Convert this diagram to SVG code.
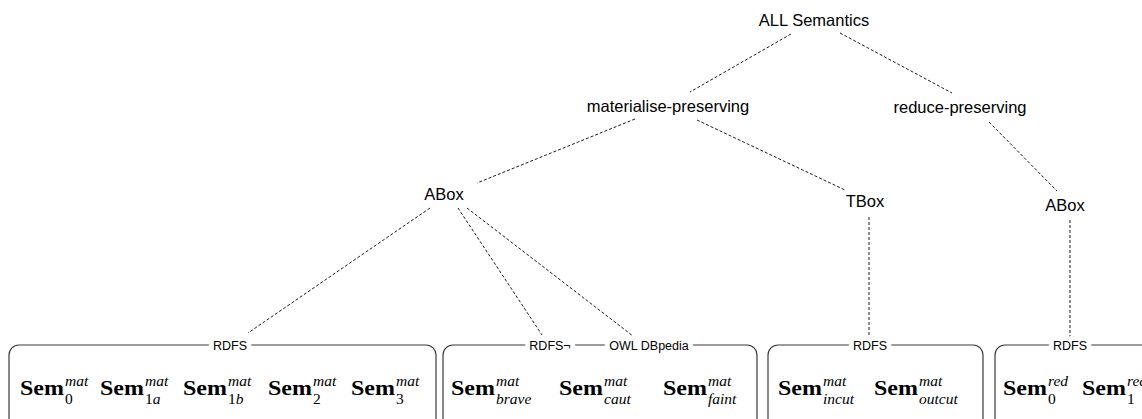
<svg xmlns="http://www.w3.org/2000/svg" width="1142" height="419" viewBox="0 0 1142 419">
  <style>
    .node { font-family: "Liberation Sans", Arial, sans-serif; font-size: 16.5px; fill: #000; text-anchor: middle; }
    .edge { fill: none; stroke: #000; stroke-width: 0.9; stroke-dasharray: 3 2; }
    .box { fill: none; stroke: #3a3a3a; stroke-width: 1.2; }
    .tag { font-family: "Liberation Sans", Arial, sans-serif; font-size: 12.5px; fill: #000; text-anchor: middle;
           stroke: #fff; stroke-width: 10; stroke-linejoin: round; paint-order: stroke; }
    .sem { font-family: "Liberation Serif", "Times New Roman", serif; font-size: 21px; font-weight: bold; fill: #000; }
    .scr { font-family: "Liberation Serif", "Times New Roman", serif; font-size: 15.5px; fill: #000; }
    .it { font-style: italic; }
  </style>

  <!-- dashed tree edges -->
  <g id="connectors">
    <line class="edge" x1="791" y1="34" x2="690" y2="92"/>
    <line class="edge" x1="840" y1="33" x2="952" y2="93"/>
    <line class="edge" x1="635" y1="119" x2="477" y2="183"/>
    <line class="edge" x1="697" y1="120" x2="845" y2="190"/>
    <line class="edge" x1="989" y1="122" x2="1057" y2="191"/>
    <line class="edge" x1="430" y1="208" x2="248" y2="333"/>
    <line class="edge" x1="458" y1="208" x2="542" y2="335"/>
    <line class="edge" x1="467" y1="208" x2="633" y2="336"/>
    <line class="edge" x1="869" y1="217" x2="869" y2="338"/>
    <line class="edge" x1="1070" y1="220" x2="1070" y2="338"/>
  </g>

  <g id="all-semantics"><text class="node" x="814" y="26">ALL Semantics</text></g>
  <g id="materialise-preserving"><text class="node" x="668" y="112">materialise-preserving</text></g>
  <g id="reduce-preserving"><text class="node" x="960" y="113">reduce-preserving</text></g>
  <g id="mat-abox"><text class="node" x="444" y="200">ABox</text></g>
  <g id="mat-tbox"><text class="node" x="865" y="207">TBox</text></g>
  <g id="red-abox"><text class="node" x="1065" y="211">ABox</text></g>

  <!-- ABox materialisation semantics -->
  <g id="box-abox-rdfs">
    <path class="box" d="M 9 430 V 355 A 10 10 0 0 1 19 345 H 426 A 10 10 0 0 1 436 355 V 430"/>
    <text class="tag" x="230" y="349.5">RDFS</text>
    <text class="sem" x="20" y="395" textLength="44" lengthAdjust="spacingAndGlyphs">Sem</text>
    <text class="scr it" x="65" y="386">mat</text><text class="scr" x="65" y="404">0</text>
    <text class="sem" x="100" y="395" textLength="44" lengthAdjust="spacingAndGlyphs">Sem</text>
    <text class="scr it" x="145" y="386">mat</text><text class="scr" x="145" y="404">1<tspan class="it">a</tspan></text>
    <text class="sem" x="183" y="395" textLength="44" lengthAdjust="spacingAndGlyphs">Sem</text>
    <text class="scr it" x="228" y="386">mat</text><text class="scr" x="228" y="404">1<tspan class="it">b</tspan></text>
    <text class="sem" x="268" y="395" textLength="44" lengthAdjust="spacingAndGlyphs">Sem</text>
    <text class="scr it" x="313" y="386">mat</text><text class="scr" x="313" y="404">2</text>
    <text class="sem" x="351" y="395" textLength="44" lengthAdjust="spacingAndGlyphs">Sem</text>
    <text class="scr it" x="396" y="386">mat</text><text class="scr" x="396" y="404">3</text>
  </g>

  <g id="box-abox-owl">
    <path class="box" d="M 443 430 V 355 A 10 10 0 0 1 453 345 H 747 A 10 10 0 0 1 757 355 V 430"/>
    <text class="tag" x="550" y="349.5">RDFS¬</text>
    <text class="tag" x="649" y="349.5">OWL DBpedia</text>
    <text class="sem" x="451" y="395" textLength="44" lengthAdjust="spacingAndGlyphs">Sem</text>
    <text class="scr it" x="496" y="386">mat</text><text class="scr it" x="496" y="404">brave</text>
    <text class="sem" x="559" y="395" textLength="44" lengthAdjust="spacingAndGlyphs">Sem</text>
    <text class="scr it" x="604" y="386">mat</text><text class="scr it" x="604" y="404">caut</text>
    <text class="sem" x="663" y="395" textLength="44" lengthAdjust="spacingAndGlyphs">Sem</text>
    <text class="scr it" x="708" y="386">mat</text><text class="scr it" x="708" y="404">faint</text>
  </g>

  <!-- TBox materialisation semantics -->
  <g id="box-tbox-rdfs">
    <path class="box" d="M 768 430 V 355 A 10 10 0 0 1 778 345 H 973 A 10 10 0 0 1 983 355 V 430"/>
    <text class="tag" x="870" y="349.5">RDFS</text>
    <text class="sem" x="778" y="395" textLength="44" lengthAdjust="spacingAndGlyphs">Sem</text>
    <text class="scr it" x="823" y="386">mat</text><text class="scr it" x="823" y="404">incut</text>
    <text class="sem" x="874" y="395" textLength="44" lengthAdjust="spacingAndGlyphs">Sem</text>
    <text class="scr it" x="919" y="386">mat</text><text class="scr it" x="919" y="404">outcut</text>
  </g>

  <!-- ABox reduction semantics -->
  <g id="box-red-rdfs">
    <path class="box" d="M 995 430 V 355 A 10 10 0 0 1 1005 345 H 1150"/>
    <text class="tag" x="1070" y="349.5">RDFS</text>
    <text class="sem" x="1003" y="395" textLength="44" lengthAdjust="spacingAndGlyphs">Sem</text>
    <text class="scr it" x="1048" y="386">red</text><text class="scr" x="1048" y="404">0</text>
    <text class="sem" x="1082" y="395" textLength="44" lengthAdjust="spacingAndGlyphs">Sem</text>
    <text class="scr it" x="1127" y="386">red</text><text class="scr" x="1127" y="404">1</text>
  </g>
</svg>
